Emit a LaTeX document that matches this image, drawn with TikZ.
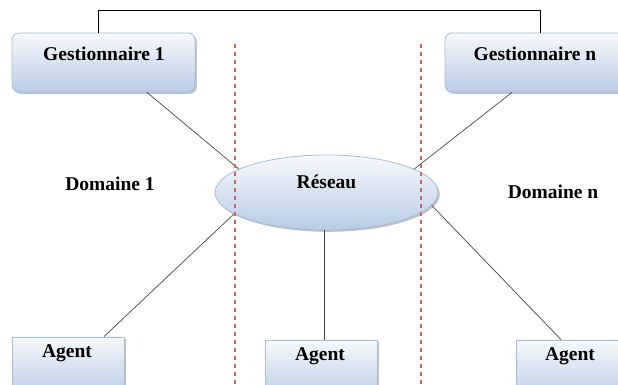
\documentclass[tikz,border=0pt]{standalone}
\usepackage{fontspec}
\setmainfont{Liberation Serif}
\usetikzlibrary{shapes.geometric,shadows}

\definecolor{boxtop}{HTML}{F6F9FC}
\definecolor{boxbot}{HTML}{B8CCE4}
\definecolor{boxedge}{HTML}{A6BDDA}
\definecolor{sepred}{rgb}{0.87,0.38,0.38}
\definecolor{wirecol}{HTML}{454545}

\tikzset{
  panel/.style={draw=boxedge, line width=0.8pt, top color=boxtop, bottom color=boxbot,
    drop shadow={shadow xshift=1.8pt, shadow yshift=-1.8pt, opacity=0.35, fill=black!70},
    inner sep=0pt},
  manager/.style={panel, rectangle, rounded corners=7pt},
  agentbox/.style={panel, rectangle},
  netnode/.style={panel, ellipse},
  caption/.style={font=\fontsize{19.5}{21}\selectfont\bfseries, inner sep=0pt},
  link/.style={draw=wirecol, line width=0.7pt},
  toplink/.style={draw=black, line width=0.8pt},
  sepline/.style={draw=sepred, line width=1.2pt, dash pattern=on 4.5pt off 3.5pt}
}

\begin{document}
\begin{tikzpicture}[x=1pt,y=1pt]
  \useasboundingbox (0,0) rectangle (618,385);
  \clip (0,0) rectangle (618,385);

  % managers, network and agents
  \node[manager, minimum width=183pt, minimum height=59pt] (g1) at (103.5,322.5) {};
  \node[manager, minimum width=180pt, minimum height=59pt] (gn) at (535,322.5) {};
  \node[netnode, minimum width=223pt, minimum height=75pt] (r) at (326.5,192.5) {};
  \node[agentbox, minimum width=112pt, minimum height=60pt] (a1) at (68,18) {};
  \node[agentbox, minimum width=112pt, minimum height=60pt] (a2) at (321,15) {};
  \node[agentbox, minimum width=108pt, minimum height=60pt] (a3) at (570,15) {};

  % texts
  \node[caption] (g1t) at (104,331) {Gestionnaire 1};
  \node[caption] (gnt) at (535,331) {Gestionnaire n};
  \node[caption] (rt) at (326.5,203) {Réseau};
  \node[caption] (a1t) at (67,32) {Agent};
  \node[caption] (a2t) at (320,29) {Agent};
  \node[caption] (a3t) at (570,29) {Agent};
  \node[caption] (d1) at (110,201) {Domaine 1};
  \node[caption] (dn) at (553,193) {Domaine n};

  % link between the two managers
  \coordinate (up1) at ([xshift=-5.5pt]g1.north);
  \coordinate (upn) at ([xshift=5pt]gn.north);
  \draw[toplink] (up1) -- ++(0,22.5) -| (upn);

  % links to the network
  \draw[link] ([xshift=43.5pt]g1.south) -- (r.165);
  \draw[link] ([xshift=-23pt]gn.south) -- (r.15);
  \draw[link] (r.193) -- ([xshift=36pt]a1.north);
  \draw[link] ([xshift=-2pt]r.south) -- ([xshift=-2pt]r.south |- a2.north);
  \draw[link] (r.353) -- ([xshift=-9pt]a3.north);

  % domain boundaries
  \coordinate (s1) at (235,341);
  \coordinate (s2) at (421,341);
  \draw[sepline] (s1) -- (s1 |- 0,0);
  \draw[sepline] (s2) -- (s2 |- 0,0);
\end{tikzpicture}
\end{document}
